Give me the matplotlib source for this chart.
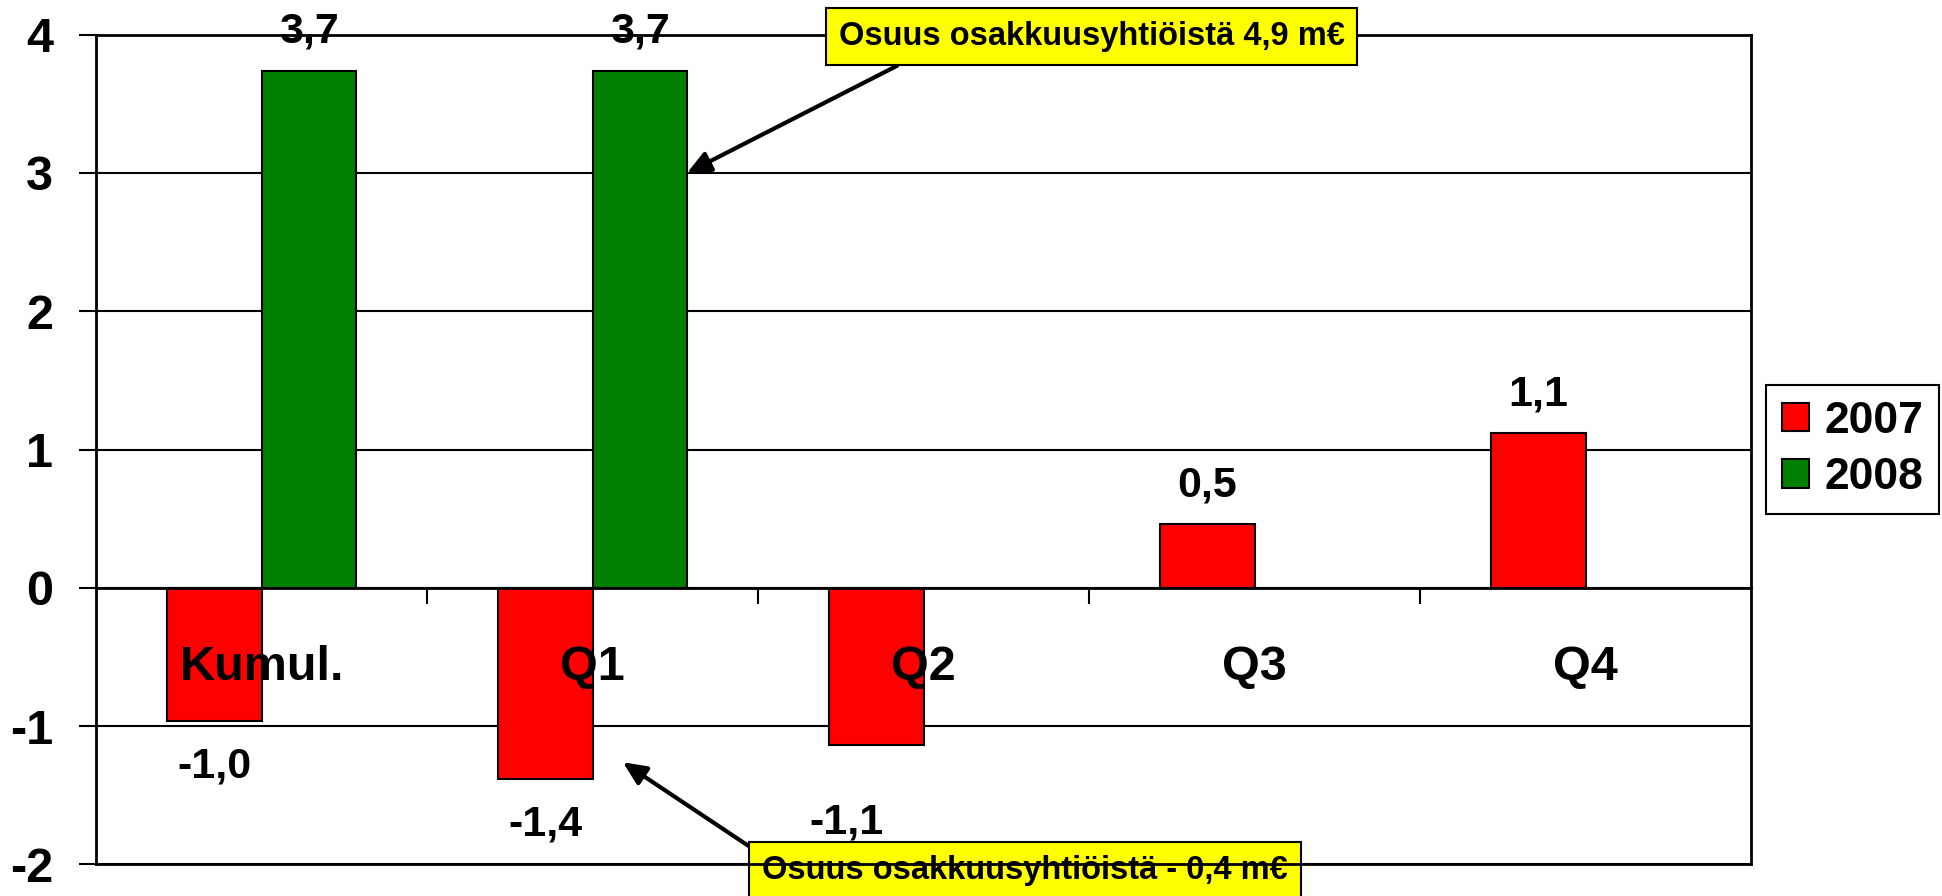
import numpy as np
import matplotlib
matplotlib.use('Agg')
import matplotlib.pyplot as plt

# ---- data ----
categories = ['Kumul.', 'Q1', 'Q2', 'Q3', 'Q4']
series_names = ['2007', '2008']
values_2007 = [-0.96, -1.38, -1.14, 0.46, 1.12]
values_2008 = [3.74, 3.74, np.nan, np.nan, np.nan]
labels_2007 = ['-1,0', '-1,4', '-1,1', '0,5', '1,1']
labels_2008 = ['3,7', '3,7', '', '', '']
yticks = [-2, -1, 0, 1, 2, 3, 4]
ytick_labels = ['-2', '-1', '0', '1', '2', '3', '4']
note_top = 'Osuus osakkuusyhtiöistä 4,9 m€'
note_bottom = 'Osuus osakkuusyhtiöistä - 0,4 m€'

# ---- style ----
plt.rcParams['font.family'] = ['Liberation Sans', 'DejaVu Sans']
plt.rcParams['font.weight'] = 'bold'

note_size = 23.5
note_pad = 0.4

W, H = 1942, 896
fig = plt.figure(figsize=(W / 100, H / 100), dpi=100)
ax = fig.add_axes([96 / W, 1 - 864.3 / H, (1751 - 96) / W, (864.3 - 34.7) / H])

x = np.arange(len(categories))
w = 0.2857
b1 = ax.bar(x - w / 2, values_2007, w, color='#FF0000', edgecolor='black',
            linewidth=1.5, label=series_names[0], zorder=2)
b2 = ax.bar(x + w / 2, values_2008, w, color='#008000', edgecolor='black',
            linewidth=1.5, label=series_names[1], zorder=2)

ax.set_xlim(-0.5, len(categories) - 0.5)
ax.set_ylim(yticks[0], yticks[-1])

# data labels
label_shift_2007 = {2: (-21.6, -41)}  # manually moved label (points)


def put_labels(bars, labels, shifts):
    for i, (rect, lab) in enumerate(zip(bars, labels)):
        v = rect.get_height()
        if not lab or np.isnan(v):
            continue
        cx = rect.get_x() + rect.get_width() / 2
        if v >= 0:
            off = (0, 13.5)
            va = 'bottom'
        else:
            off = (0, -18.5)
            va = 'top'
        if i in shifts:
            off = shifts[i]
        ax.annotate(lab, xy=(cx, v), xytext=off, textcoords='offset points',
                    ha='center', va=va, fontsize=31, fontweight='bold', zorder=4)


put_labels(b1, labels_2007, label_shift_2007)
put_labels(b2, labels_2008, {})

# axes styling
ax.set_yticks(yticks)
ax.set_yticklabels(ytick_labels)
ax.tick_params(axis='y', direction='out', length=12, width=1.5, pad=19,
               labelsize=35)
ax.yaxis.grid(True, color='black', linewidth=1.5)
ax.set_axisbelow(True)

ax.spines['bottom'].set_position(('data', 0))
for s in ax.spines.values():
    s.set_linewidth(2)
    s.set_color('black')

ax.set_xticks(x[:-1] + 0.5)
ax.set_xticks(x, minor=True)
ax.set_xticklabels(categories, minor=True)
ax.tick_params(axis='x', which='major', direction='out', length=11.5,
               width=1.5, labelbottom=False)
ax.tick_params(axis='x', which='minor', length=0, pad=41, labelsize=35)
ax.xaxis.set_zorder(4)  # category names drawn over the bars

# bottom frame line of the plot area (drawn above the lower note box)
ax.axhline(yticks[0], color='black', linewidth=2, zorder=6, clip_on=False)

# notes with arrows
arrow_kw = dict(arrowstyle='-|>,head_length=0.7,head_width=0.32', color='black',
                lw=3, shrinkA=0, shrinkB=0, mutation_scale=20)
box_kw = dict(boxstyle='square,pad=%.2f' % note_pad, fc='#FFFF00', ec='black', lw=1.5)
ax.annotate(note_top, xy=(1 + w, 3.0), xycoords='data',
            xytext=(1091.5 / W, 1 - 36.5 / H), textcoords='figure fraction',
            ha='center', va='center', fontsize=note_size, fontweight='bold',
            bbox=box_kw,
            arrowprops=dict(relpos=(0.169, 0.0), **arrow_kw),
            zorder=5, annotation_clip=False)
ax.annotate(note_bottom, xy=(1.092, -1.262), xycoords='data',
            xytext=(1025 / W, 1 - 870.5 / H), textcoords='figure fraction',
            ha='center', va='center', fontsize=note_size, fontweight='bold',
            bbox=box_kw,
            arrowprops=dict(relpos=(0.0, 1.0), **arrow_kw),
            zorder=3, annotation_clip=False)

# legend
leg = ax.legend(handles=[b1, b2], labels=series_names, loc='center',
                bbox_to_anchor=(1852.5 / W, 1 - 449.5 / H),
                bbox_transform=fig.transFigure,
                prop={'size': 32, 'weight': 'bold'}, frameon=True,
                fancybox=False, edgecolor='black', framealpha=1,
                handlelength=0.6, handleheight=0.6, handletextpad=0.35,
                labelspacing=0.35, borderpad=0.35)
leg.get_frame().set_linewidth(1.5)

fig.savefig('out.png', dpi=100)
